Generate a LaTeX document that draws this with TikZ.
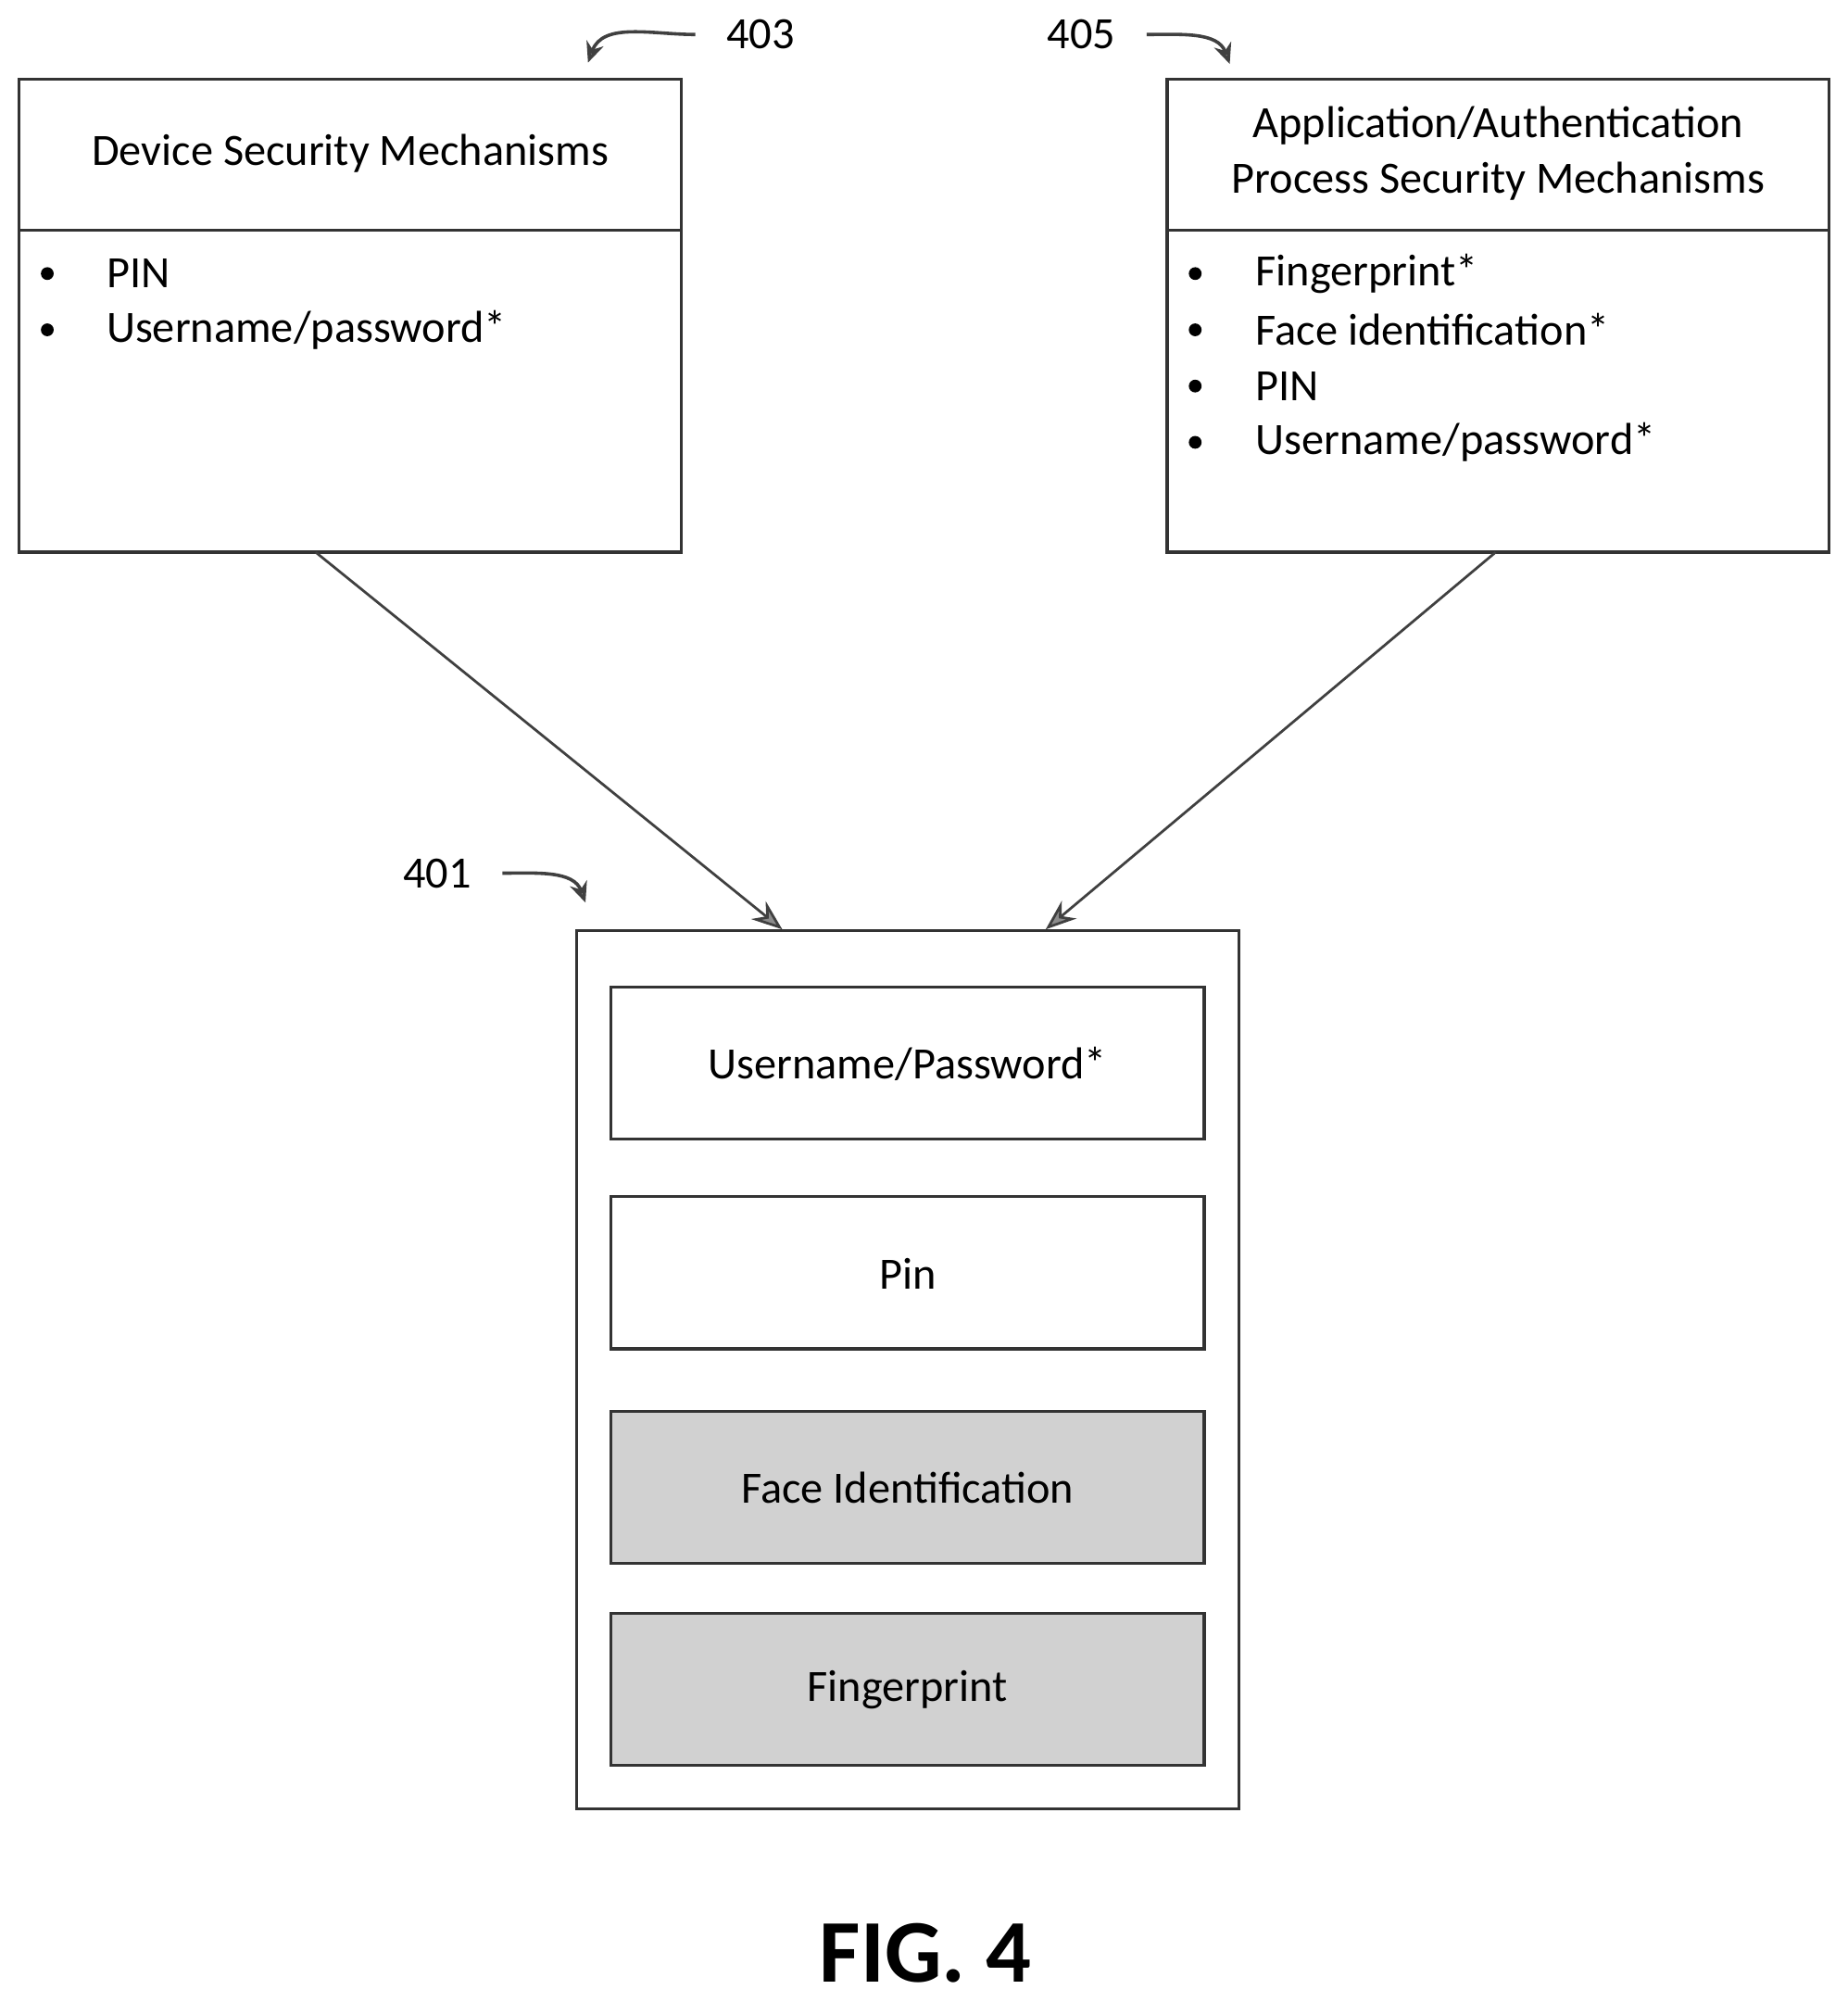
\documentclass[tikz,border=0pt]{standalone}
\usepackage{fontspec}
\setmainfont{Carlito}
\usetikzlibrary{arrows.meta}
\begin{document}
\begin{tikzpicture}[x=0.5pt,y=-0.5pt,
  box/.style={draw=black!80,line width=1.2pt},
  txt/.style={font=\fontsize{17.5}{21}\selectfont,inner sep=0pt},
  arr/.style={draw=black!75,line width=1pt,-{Stealth[length=12pt,width=9pt,fill=black!45]}},
  carr/.style={draw=black!75,line width=1.3pt,-{Stealth[length=8pt,width=7pt,fill=black!45]}},
  shade/.style={box,fill=black!18}]
\useasboundingbox (0,0) rectangle (1445,1566);
% left box
\draw[box] (15,62) rectangle (533,432);
\draw[box] (15,180) -- (533,180);
\node[txt] (dt) at (274,120) {Device Security Mechanisms};
\foreach \y/\t in {214/{PIN},258/{Username/password*}}{
  \fill (37,\y) circle (2.5pt);
  \node[txt,anchor=west] at (83,\y) {\t};}
\coordinate (lb) at (247,432);
% right box
\draw[box] (913,62) rectangle (1431,432);
\draw[box] (913,180) -- (1431,180);
\node[txt,align=center] (at) at (1172,120) {Application/Authentication\\[1pt]Process Security Mechanisms};
\foreach \y/\t in {214/{Fingerprint*},258/{Face identification*},302/{PIN},346/{Username/password*}}{
  \fill (935,\y) circle (2.5pt);
  \node[txt,anchor=west] at (982,\y) {\t};}
\coordinate (rb) at (1170,432);
% main box
\draw[box] (451,728) rectangle (969,1415);
\coordinate (ml) at (612,727);
\coordinate (mr) at (818,727);
\draw[box] (478,772) rectangle (942,891);
\node[txt] (u) at (710,832) {Username/Password*};
\draw[box] (478,936) rectangle (942,1055);
\node[txt] (p) at (710,996) {Pin};
\draw[shade] (478,1104) rectangle (942,1223);
\node[txt] (f) at (710,1164) {Face Identification};
\draw[shade] (478,1262) rectangle (942,1381);
\node[txt] (g) at (710,1322) {Fingerprint};
\draw[arr] (lb) -- (ml);
\draw[arr] (rb) -- (mr);
% labels
\node[txt] (n403) at (595,27) {403};
\node[txt] (n405) at (846,27) {405};
\node[txt] (n401) at (342,683) {401};
\coordinate (a403) at (460,49);
\coordinate (a405) at (962,50);
\coordinate (a401) at (458,706);
\draw[carr] ([xshift=-12]n403.west) to[out=180,in=70] (a403);
\draw[carr] ([xshift=12]n405.east) to[out=0,in=110] (a405);
\draw[carr] ([xshift=12]n401.east) to[out=0,in=110] (a401);
\node[font=\bfseries\fontsize{35}{40}\selectfont,inner sep=0pt] (fig) at (724,1528) {FIG. 4};
\end{tikzpicture}
\end{document}
